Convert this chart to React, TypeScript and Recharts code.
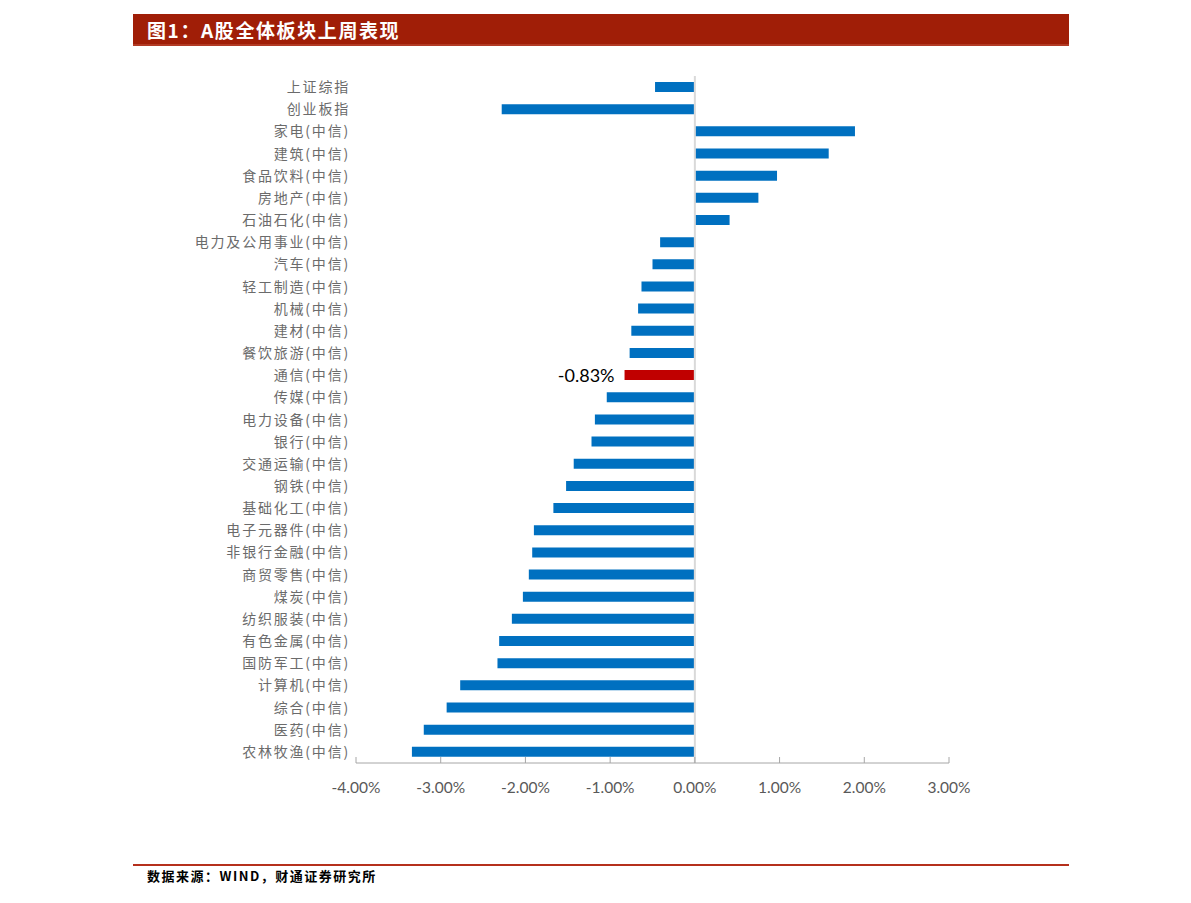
import React from 'react';
import { BarChart, Bar, XAxis, YAxis, Cell, ReferenceLine, LabelList } from 'recharts';

const categories = [
  '上证综指', '创业板指', '家电(中信)', '建筑(中信)', '食品饮料(中信)', '房地产(中信)',
  '石油石化(中信)', '电力及公用事业(中信)', '汽车(中信)', '轻工制造(中信)', '机械(中信)',
  '建材(中信)', '餐饮旅游(中信)', '通信(中信)', '传媒(中信)', '电力设备(中信)', '银行(中信)',
  '交通运输(中信)', '钢铁(中信)', '基础化工(中信)', '电子元器件(中信)', '非银行金融(中信)',
  '商贸零售(中信)', '煤炭(中信)', '纺织服装(中信)', '有色金属(中信)', '国防军工(中信)',
  '计算机(中信)', '综合(中信)', '医药(中信)', '农林牧渔(中信)',
];

const values = [
  -0.47, -2.28, 1.89, 1.58, 0.97, 0.75,
  0.41, -0.41, -0.5, -0.63, -0.67,
  -0.75, -0.77, -0.83, -1.04, -1.18, -1.22,
  -1.43, -1.52, -1.67, -1.9, -1.92,
  -1.96, -2.03, -2.16, -2.31, -2.33,
  -2.77, -2.93, -3.2, -3.34,
];

const xTicks = [-4, -3, -2, -1, 0, 1, 2, 3];
const highlightName = '通信(中信)';
const titleText = '图1：A股全体板块上周表现';
const sourceText = '数据来源：WIND，财通证券研究所';

const data = categories.map((name, i) => ({ name, value: values[i] }));

const CJK = "'Noto Sans CJK SC', 'Noto Sans', sans-serif";
const LATIN = "Lato, 'Liberation Sans', sans-serif";

const YTick = (props: any) => {
  const { x, y, payload } = props;
  return (
    <text x={x} y={y} dy={5} textAnchor="end" fill="#6b6b6b" fontSize={14} fontFamily={CJK} letterSpacing={1.8}>
      {payload.value}
    </text>
  );
};

const XTick = (props: any) => {
  const { x, y, payload } = props;
  return (
    <g>
      <line x1={x} x2={x} y1={y - 6} y2={y} stroke="#a6a6a6" strokeWidth={1} />
      <text x={x} y={y + 30} textAnchor="middle" fill="#595959" fontSize={15.5} fontFamily={LATIN}>
        {`${Number(payload.value).toFixed(2)}%`}
      </text>
    </g>
  );
};

const renderLabel = (props: any) => {
  const { x, y, width, height, index, value } = props;
  if (categories[index] !== highlightName) return null;
  const left = Math.min(Number(x), Number(x) + Number(width));
  return (
    <text x={left - 10} y={Number(y) + Number(height) / 2} dy={6.5} textAnchor="end" fill="#000000" fontSize={18} fontFamily={LATIN}>
      {`${Number(value).toFixed(2)}%`}
    </text>
  );
};

export default function App() {
  return (
    <div style={{ position: 'absolute', left: 0, top: 0, width: 1191, height: 903, background: '#ffffff', overflow: 'hidden' }}>
      <div
        style={{
          position: 'absolute', left: 133, top: 14, width: 936, height: 32,
          background: '#A01E07', borderBottom: '2px solid #B23A24',
          color: '#ffffff', fontFamily: CJK, fontWeight: 'bold', fontSize: 19,
          letterSpacing: 1.6, lineHeight: '32px', paddingLeft: 14, boxSizing: 'border-box',
          whiteSpace: 'nowrap',
        }}
      >
        {titleText}
      </div>
      <div style={{ position: 'absolute', left: 0, top: 0 }}>
        <BarChart
          width={1191}
          height={903}
          data={data}
          layout="vertical"
          margin={{ top: 76, right: 242, bottom: 100, left: 0 }}
        >
          <XAxis
            type="number"
            dataKey="value"
            domain={[-4, 3]}
            ticks={xTicks}
            interval={0}
            height={40}
            axisLine={{ stroke: '#a6a6a6', strokeWidth: 1 }}
            tickLine={false}
            tickSize={0}
            tickMargin={0}
            tick={<XTick />}
            allowDataOverflow
          />
          <YAxis
            type="category"
            dataKey="name"
            width={356}
            axisLine={false}
            tickLine={false}
            tickSize={0}
            tickMargin={6}
            interval={0}
            tick={<YTick />}
          />
          <ReferenceLine x={0} stroke="#d9d9d9" strokeWidth={2} />
          <Bar dataKey="value" barSize={10} isAnimationActive={false}>
            {data.map((d) => (
              <Cell key={d.name} fill={d.name === highlightName ? '#C00000' : '#0070C0'} />
            ))}
            <LabelList dataKey="value" content={renderLabel} />
          </Bar>
        </BarChart>
      </div>
      <div style={{ position: 'absolute', left: 133, top: 864, width: 936, height: 2, background: '#B5301C' }} />
      <div
        style={{
          position: 'absolute', left: 147, top: 868, fontFamily: CJK, fontWeight: 'bold',
          fontSize: 13, letterSpacing: 1.5, lineHeight: '16px', color: '#000000', whiteSpace: 'nowrap',
        }}
      >
        {sourceText}
      </div>
    </div>
  );
}
